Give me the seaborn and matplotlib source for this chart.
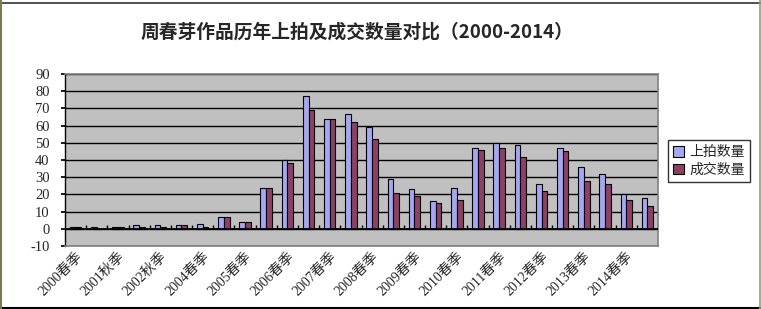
import matplotlib
matplotlib.use("Agg")
import matplotlib.pyplot as plt
import matplotlib.transforms as mtransforms
import seaborn as sns
import pandas as pd
import numpy as np
from matplotlib.lines import Line2D

categories = ['2000春季', '2001春季', '2001秋季', '2002春季', '2002秋季', '2003秋季',
              '2004春季', '2004秋季', '2005春季', '2005秋季', '2006春季', '2006秋季',
              '2007春季', '2007秋季', '2008春季', '2008秋季', '2009春季', '2009秋季',
              '2010春季', '2010秋季', '2011春季', '2011秋季', '2012春季', '2012秋季',
              '2013春季', '2013秋季', '2014春季', '2014秋季']
listed = [1, 1, 1, 2, 2, 2, 3, 7, 4, 24, 40, 77, 64, 67, 59, 29, 23, 16, 24, 47,
          50, 49, 26, 47, 36, 32, 20, 18]
sold = [1, 0, 1, 1, 1, 2, 1, 7, 4, 24, 38, 69, 64, 62, 52, 21, 19, 15, 17, 46,
        47, 42, 22, 45, 28, 26, 17, 13]
series_names = ['上拍数量', '成交数量']
title = '周春芽作品历年上拍及成交数量对比（2000-2014）'

df = pd.DataFrame({
    'cat': categories * 2,
    'value': listed + sold,
    'series': [series_names[0]] * len(categories) + [series_names[1]] * len(categories),
})

sns.set_theme(style='white')
plt.rcParams['font.family'] = ['Liberation Serif', 'Noto Sans CJK SC', 'DejaVu Sans']

fig = plt.figure(figsize=(7.61, 3.09), dpi=100)
ax = fig.add_axes([65 / 761, 1 - 246 / 309, (658 - 65) / 761, (246 - 74) / 309])
ax.set_facecolor('#C0C0C0')

sns.barplot(data=df, x='cat', y='value', hue='series', order=categories,
            palette=['#9999FF', '#993366'], width=0.54, edgecolor='black',
            linewidth=0.8, ax=ax, legend=True, zorder=3)

ax.set_ylim(-10, 90)
ax.set_xlim(-0.5, len(categories) - 0.5)
ax.set_yticks(range(-10, 91, 10))
ax.set_yticklabels([str(v) for v in range(-10, 91, 10)])
for t in ax.get_yticklabels():
    t.set_fontfamily('Liberation Serif')
    t.set_fontsize(10.5)
ax.yaxis.grid(True, color='black', linewidth=1.0, zorder=1)
ax.set_axisbelow(True)
ax.axhline(0, color='black', linewidth=1.3, zorder=4)
ax.vlines(np.arange(0.5, len(categories) - 1, 1), 0, 2.3, color='black',
          linewidth=1.0, zorder=4)

pos = list(range(0, len(categories), 2))
ax.set_xticks(pos)
ax.set_xticklabels([categories[i] for i in pos], rotation=45, ha='right',
                   va='top', rotation_mode='anchor')
shift = mtransforms.ScaledTranslation(-7 / 100, 0, fig.dpi_scale_trans)
for t in ax.get_xticklabels():
    t.set_fontfamily(['Liberation Serif', 'Noto Sans CJK SC'])
    t.set_fontsize(10)
    t.set_transform(t.get_transform() + shift)
ax.tick_params(axis='x', length=0, pad=3)
ax.tick_params(axis='y', length=3, left=True, color='black', pad=8)
ax.set_xlabel('')
ax.set_ylabel('')

for side in ['top', 'right', 'bottom']:
    ax.spines[side].set_color('#808080')
    ax.spines[side].set_linewidth(1.2)
ax.spines['left'].set_color('black')
ax.spines['left'].set_linewidth(1.0)

handles, labels = ax.get_legend_handles_labels()
ax.legend_.remove()
leg = fig.legend(handles, labels, loc='center left',
                 bbox_to_anchor=(668 / 761, 1 - 161 / 309),
                 frameon=True, fancybox=False, edgecolor='black',
                 prop={'family': 'Noto Sans CJK SC', 'size': 10},
                 handlelength=0.8, handleheight=0.8, handletextpad=0.4,
                 borderpad=0.35, labelspacing=0.25, borderaxespad=0)
leg.get_frame().set_linewidth(1.0)

fig.text(357 / 761, 1 - 32 / 309, title, ha='center', va='center',
         fontsize=13.5, fontweight='bold', family=['Noto Sans CJK SC', 'DejaVu Sans'])

# screenshot frame
fig.add_artist(Line2D([0, 1], [1 - 2.5 / 309] * 2, color='#333333', lw=1.2,
                      transform=fig.transFigure))
fig.add_artist(Line2D([0, 1], [1.5 / 309] * 2, color='black', lw=1.5,
                      transform=fig.transFigure))
fig.add_artist(Line2D([1 / 761] * 2, [0, 1], color='#7a7a5a', lw=1.5,
                      transform=fig.transFigure))
fig.add_artist(Line2D([759.5 / 761] * 2, [0, 1], color='#9a9a80', lw=1.2,
                      transform=fig.transFigure))

fig.savefig('out.png', dpi=100)
